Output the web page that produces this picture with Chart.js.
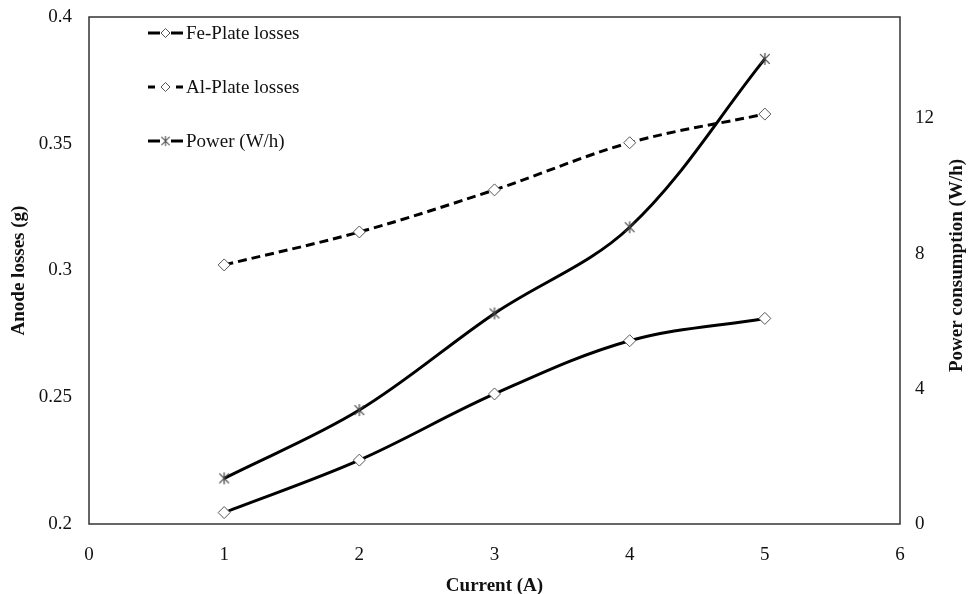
<!DOCTYPE html>
<html>
<head>
<meta charset="utf-8">
<script src="https://cdn.jsdelivr.net/npm/chart.js@4/dist/chart.umd.min.js"></script>
<style>
html,body{margin:0;padding:0;background:#fff;}
#wrap{width:969px;height:594px;position:relative;}
</style>
</head>
<body>
<div id="wrap"><canvas id="c" width="969" height="594"></canvas></div>
<script>
const currentA = [1, 2, 3, 4, 5];
const feLosses = [0.2045, 0.2252, 0.2513, 0.2723, 0.2811];
const alLosses = [0.3022, 0.3152, 0.3318, 0.3504, 0.3617];
const powerWh = [1.35, 3.37, 6.23, 8.78, 13.76];
const seriesNames = ['Fe-Plate losses', 'Al-Plate losses', 'Power (W/h)'];
const xTitle = 'Current (A)';
const yLeftTitle = 'Anode losses (g)';
const yRightTitle = 'Power consumption (W/h)';

const FONT = "'Liberation Serif', 'Times New Roman', serif";
const TXT = '#111';
const FS = 19;

// asterisk marker (vertical bar + X)
function makeAsterisk(size) {
  const c = document.createElement('canvas');
  c.width = size; c.height = size;
  const g = c.getContext('2d');
  g.strokeStyle = '#444'; g.lineWidth = 1.2;
  const m = size / 2, r = size / 2 - 1;
  g.beginPath();
  g.moveTo(m, m - r); g.lineTo(m, m + r);
  const d = r * 0.8;
  g.moveTo(m - d, m - d); g.lineTo(m + d, m + d);
  g.moveTo(m + d, m - d); g.lineTo(m - d, m + d);
  g.stroke();
  return c;
}
const asterisk = makeAsterisk(14);

const pts = (ys) => currentA.map((x, i) => ({x: x, y: ys[i]}));

const frame = {
  id: 'frame',
  afterDraw(chart) {
    const {ctx, chartArea: a} = chart;
    ctx.save();
    ctx.strokeStyle = '#333';
    ctx.lineWidth = 1.5;
    ctx.strokeRect(a.left, a.top, a.right - a.left, a.bottom - a.top);
    // right axis title, reading bottom-to-top
    ctx.fillStyle = TXT;
    ctx.font = "bold " + FS + "px " + FONT;
    ctx.textAlign = 'center';
    ctx.textBaseline = 'middle';
    ctx.translate(957, (a.top + a.bottom) / 2 - 5);
    ctx.rotate(-Math.PI / 2);
    ctx.fillText(yRightTitle, 0, 0);
    ctx.restore();
  }
};

const legendPlugin = {
  id: 'customLegend',
  afterDraw(chart) {
    const ctx = chart.ctx;
    const rows = [33, 87, 141];
    const x0 = 148, x1 = 183;
    ctx.save();
    chart.data.datasets.forEach((ds, i) => {
      const y = rows[i];
      ctx.strokeStyle = '#000';
      ctx.lineWidth = 3;
      ctx.beginPath();
      if (ds.borderDash) {
        ctx.moveTo(x0, y); ctx.lineTo(x0 + 7, y);
        ctx.moveTo(x1 - 7, y); ctx.lineTo(x1, y);
      } else {
        ctx.moveTo(x0, y); ctx.lineTo(x0 + 12, y);
        ctx.moveTo(x1 - 12, y); ctx.lineTo(x1, y);
      }
      ctx.stroke();
      const mx = (x0 + x1) / 2;
      if (ds.pointStyle === 'rectRot') {
        ctx.fillStyle = '#fff';
        ctx.strokeStyle = '#555';
        ctx.lineWidth = 1;
        const r = 4.5;
        ctx.beginPath();
        ctx.moveTo(mx, y - r); ctx.lineTo(mx + r, y); ctx.lineTo(mx, y + r); ctx.lineTo(mx - r, y); ctx.closePath();
        ctx.fill(); ctx.stroke();
      } else {
        ctx.drawImage(asterisk, mx - 6, y - 6, 12, 12);
      }
      ctx.fillStyle = TXT;
      ctx.font = FS + "px " + FONT;
      ctx.textBaseline = 'middle';
      ctx.textAlign = 'left';
      ctx.fillText(ds.label, x1 + 3, y + 1);
    });
    ctx.restore();
  }
};

const hiddenTicks = (len) => ({display: true, drawOnChartArea: false, drawTicks: true, tickLength: len, tickColor: 'rgba(0,0,0,0)', color: 'rgba(0,0,0,0)'});

new Chart(document.getElementById('c'), {
  type: 'scatter',
  data: {
    datasets: [
      {
        label: seriesNames[0], data: pts(feLosses), yAxisID: 'y',
        showLine: true, borderColor: '#000', borderWidth: 3, tension: 0.35,
        pointStyle: 'rectRot', pointRadius: 6, pointBackgroundColor: '#fff',
        pointBorderColor: '#555', pointBorderWidth: 1
      },
      {
        label: seriesNames[1], data: pts(alLosses), yAxisID: 'y',
        showLine: true, borderColor: '#000', borderWidth: 3, tension: 0.35,
        borderDash: [9, 5],
        pointStyle: 'rectRot', pointRadius: 6, pointBackgroundColor: '#fff',
        pointBorderColor: '#555', pointBorderWidth: 1
      },
      {
        label: seriesNames[2], data: pts(powerWh), yAxisID: 'y1',
        showLine: true, borderColor: '#000', borderWidth: 3, tension: 0.35,
        pointStyle: asterisk, pointRadius: 7
      }
    ]
  },
  options: {
    responsive: false,
    animation: false,
    events: [],
    layout: {padding: {left: 0, right: 0, top: 17, bottom: 0}},
    plugins: {legend: {display: false}, tooltip: {enabled: false}},
    scales: {
      x: {
        type: 'linear', min: 0, max: 6,
        ticks: {stepSize: 1, color: TXT, font: {family: FONT, size: FS}, padding: 20},
        grid: {display: false, drawTicks: false},
        border: {display: false},
        title: {display: true, text: xTitle, color: TXT, font: {family: FONT, size: FS, weight: 'bold'}, padding: {top: 0, bottom: -3}},
        afterFit(s) { s.height = 70; }
      },
      y: {
        type: 'linear', position: 'left', min: 0.2, max: 0.4,
        ticks: {stepSize: 0.05, color: TXT, font: {family: FONT, size: FS}, padding: 0,
          callback: (v) => String(+v.toFixed(2))},
        grid: hiddenTicks(17),
        border: {display: false},
        title: {display: true, text: yLeftTitle, color: TXT, font: {family: FONT, size: FS, weight: 'bold'}, padding: {top: 8}},
        afterFit(s) { s.width = 89; }
      },
      y1: {
        type: 'linear', position: 'right', min: 0, max: 15,
        ticks: {stepSize: 4, includeBounds: false, color: TXT, font: {family: FONT, size: FS}, padding: 0},
        grid: hiddenTicks(15),
        border: {display: false},
        title: {display: false},
        afterFit(s) { s.width = 69; }
      }
    }
  },
  plugins: [frame, legendPlugin]
});
</script>
</body>
</html>
